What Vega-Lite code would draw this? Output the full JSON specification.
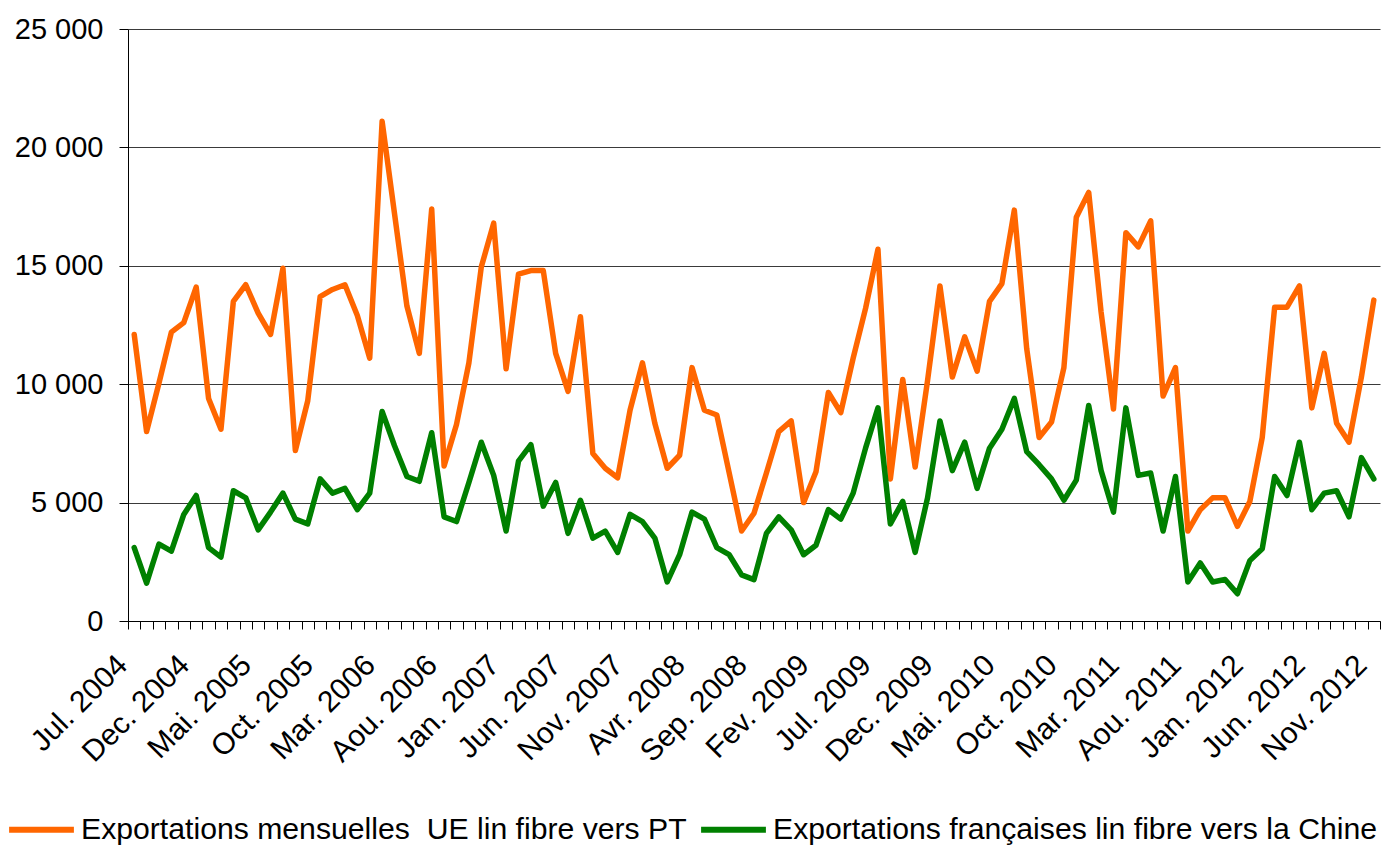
{
  "$schema": "https://vega.github.io/schema/vega-lite/v6.json",
  "width": 1252,
  "height": 592,
  "autosize": {"type": "none"},
  "padding": {"left": 128, "top": 29, "right": 4, "bottom": 224},
  "background": "white",
  "config": {
    "view": {"stroke": null},
    "font": "Liberation Sans"
  },
  "data": {
    "values": [
      {"m": "Jul. 2004", "ue": 12100, "fr": 3100},
      {"m": "Aou. 2004", "ue": 8000, "fr": 1600},
      {"m": "Sep. 2004", "ue": 10050, "fr": 3250},
      {"m": "Oct. 2004", "ue": 12200, "fr": 2950},
      {"m": "Nov. 2004", "ue": 12600, "fr": 4500},
      {"m": "Dec. 2004", "ue": 14100, "fr": 5300},
      {"m": "Jan. 2005", "ue": 9400, "fr": 3100},
      {"m": "Fev. 2005", "ue": 8100, "fr": 2700},
      {"m": "Mar. 2005", "ue": 13500, "fr": 5500},
      {"m": "Avr. 2005", "ue": 14200, "fr": 5200},
      {"m": "Mai. 2005", "ue": 13000, "fr": 3850},
      {"m": "Jun. 2005", "ue": 12100, "fr": 4600},
      {"m": "Jul. 2005", "ue": 14900, "fr": 5400},
      {"m": "Aou. 2005", "ue": 7200, "fr": 4300},
      {"m": "Sep. 2005", "ue": 9300, "fr": 4100},
      {"m": "Oct. 2005", "ue": 13700, "fr": 6000},
      {"m": "Nov. 2005", "ue": 14000, "fr": 5400},
      {"m": "Dec. 2005", "ue": 14200, "fr": 5600},
      {"m": "Jan. 2006", "ue": 12900, "fr": 4700},
      {"m": "Fev. 2006", "ue": 11100, "fr": 5400},
      {"m": "Mar. 2006", "ue": 21100, "fr": 8850},
      {"m": "Avr. 2006", "ue": 17200, "fr": 7400},
      {"m": "Mai. 2006", "ue": 13300, "fr": 6100},
      {"m": "Jun. 2006", "ue": 11300, "fr": 5900},
      {"m": "Jul. 2006", "ue": 17400, "fr": 7950},
      {"m": "Aou. 2006", "ue": 6550, "fr": 4400},
      {"m": "Sep. 2006", "ue": 8300, "fr": 4200},
      {"m": "Oct. 2006", "ue": 10900, "fr": 5850},
      {"m": "Nov. 2006", "ue": 14950, "fr": 7550},
      {"m": "Dec. 2006", "ue": 16800, "fr": 6150},
      {"m": "Jan. 2007", "ue": 10650, "fr": 3800},
      {"m": "Fev. 2007", "ue": 14650, "fr": 6750},
      {"m": "Mar. 2007", "ue": 14800, "fr": 7450},
      {"m": "Avr. 2007", "ue": 14800, "fr": 4850},
      {"m": "Mai. 2007", "ue": 11300, "fr": 5850},
      {"m": "Jun. 2007", "ue": 9700, "fr": 3700},
      {"m": "Jul. 2007", "ue": 12850, "fr": 5100},
      {"m": "Aou. 2007", "ue": 7070, "fr": 3500},
      {"m": "Sep. 2007", "ue": 6450, "fr": 3800},
      {"m": "Oct. 2007", "ue": 6050, "fr": 2900},
      {"m": "Nov. 2007", "ue": 8900, "fr": 4500},
      {"m": "Dec. 2007", "ue": 10900, "fr": 4200},
      {"m": "Jan. 2008", "ue": 8350, "fr": 3500},
      {"m": "Fev. 2008", "ue": 6450, "fr": 1650},
      {"m": "Mar. 2008", "ue": 7000, "fr": 2800},
      {"m": "Avr. 2008", "ue": 10700, "fr": 4600},
      {"m": "Mai. 2008", "ue": 8900, "fr": 4300},
      {"m": "Jun. 2008", "ue": 8700, "fr": 3100},
      {"m": "Jul. 2008", "ue": 6250, "fr": 2800},
      {"m": "Aou. 2008", "ue": 3800, "fr": 1950},
      {"m": "Sep. 2008", "ue": 4550, "fr": 1750},
      {"m": "Oct. 2008", "ue": 6250, "fr": 3700},
      {"m": "Nov. 2008", "ue": 8000, "fr": 4400},
      {"m": "Dec. 2008", "ue": 8450, "fr": 3850},
      {"m": "Jan. 2009", "ue": 5000, "fr": 2800},
      {"m": "Fev. 2009", "ue": 6300, "fr": 3200},
      {"m": "Mar. 2009", "ue": 9650, "fr": 4700},
      {"m": "Avr. 2009", "ue": 8800, "fr": 4300},
      {"m": "Mai. 2009", "ue": 11100, "fr": 5400},
      {"m": "Jun. 2009", "ue": 13200, "fr": 7300},
      {"m": "Jul. 2009", "ue": 15700, "fr": 9000},
      {"m": "Aou. 2009", "ue": 6000, "fr": 4100},
      {"m": "Sep. 2009", "ue": 10200, "fr": 5050},
      {"m": "Oct. 2009", "ue": 6500, "fr": 2900},
      {"m": "Nov. 2009", "ue": 10150, "fr": 5200},
      {"m": "Dec. 2009", "ue": 14150, "fr": 8450},
      {"m": "Jan. 2010", "ue": 10300, "fr": 6350},
      {"m": "Fev. 2010", "ue": 12000, "fr": 7550},
      {"m": "Mar. 2010", "ue": 10550, "fr": 5600},
      {"m": "Avr. 2010", "ue": 13500, "fr": 7300},
      {"m": "Mai. 2010", "ue": 14250, "fr": 8100},
      {"m": "Jun. 2010", "ue": 17350, "fr": 9400},
      {"m": "Jul. 2010", "ue": 11500, "fr": 7150},
      {"m": "Aou. 2010", "ue": 7750, "fr": 6600},
      {"m": "Sep. 2010", "ue": 8400, "fr": 6000},
      {"m": "Oct. 2010", "ue": 10700, "fr": 5100},
      {"m": "Nov. 2010", "ue": 17050, "fr": 5950},
      {"m": "Dec. 2010", "ue": 18100, "fr": 9100},
      {"m": "Jan. 2011", "ue": 13050, "fr": 6350},
      {"m": "Fev. 2011", "ue": 8950, "fr": 4600},
      {"m": "Mar. 2011", "ue": 16400, "fr": 9000},
      {"m": "Avr. 2011", "ue": 15800, "fr": 6150},
      {"m": "Mai. 2011", "ue": 16900, "fr": 6250},
      {"m": "Jun. 2011", "ue": 9500, "fr": 3800},
      {"m": "Jul. 2011", "ue": 10700, "fr": 6100},
      {"m": "Aou. 2011", "ue": 3800, "fr": 1650},
      {"m": "Sep. 2011", "ue": 4700, "fr": 2450},
      {"m": "Oct. 2011", "ue": 5200, "fr": 1650},
      {"m": "Nov. 2011", "ue": 5200, "fr": 1750},
      {"m": "Dec. 2011", "ue": 4000, "fr": 1150},
      {"m": "Jan. 2012", "ue": 5050, "fr": 2550},
      {"m": "Fev. 2012", "ue": 7750, "fr": 3050},
      {"m": "Mar. 2012", "ue": 13250, "fr": 6100},
      {"m": "Avr. 2012", "ue": 13250, "fr": 5300},
      {"m": "Mai. 2012", "ue": 14150, "fr": 7550},
      {"m": "Jun. 2012", "ue": 9000, "fr": 4700},
      {"m": "Jul. 2012", "ue": 11300, "fr": 5400},
      {"m": "Aou. 2012", "ue": 8350, "fr": 5500},
      {"m": "Sep. 2012", "ue": 7550, "fr": 4400},
      {"m": "Oct. 2012", "ue": 10300, "fr": 6900},
      {"m": "Nov. 2012", "ue": 13550, "fr": 6000}
    ]
  },
  "transform": [{"fold": ["ue", "fr"], "as": ["serie", "valeur"]}],
  "mark": {"type": "line", "strokeWidth": 5.5, "strokeJoin": "round", "strokeCap": "round"},
  "encoding": {
    "x": {
      "field": "m",
      "type": "ordinal",
      "sort": null,
      "scale": {"type": "band", "paddingInner": 0, "paddingOuter": 0},
      "axis": {
        "title": null,
        "tickBand": "extent",
        "domainColor": "black",
        "domainWidth": 1,
        "tickColor": "black",
        "tickSize": 8,
        "tickWidth": 1,
        "labelAngle": -45,
        "labelAlign": "right",
        "labelBaseline": "middle",
        "labelPadding": 31,
        "labelOffset": -12,
        "labelFontSize": 30,
        "labelColor": "black",
        "labelFont": "Liberation Sans",
        "labelOverlap": false,
        "labelLimit": 400,
        "labelExpr": "indexof(['Jul. 2004','Dec. 2004','Mai. 2005','Oct. 2005','Mar. 2006','Aou. 2006','Jan. 2007','Jun. 2007','Nov. 2007','Avr. 2008','Sep. 2008','Fev. 2009','Jul. 2009','Dec. 2009','Mai. 2010','Oct. 2010','Mar. 2011','Aou. 2011','Jan. 2012','Jun. 2012','Nov. 2012'], datum.value) >= 0 ? datum.value : ''"
      }
    },
    "y": {
      "field": "valeur",
      "type": "quantitative",
      "scale": {"domain": [0, 25000], "nice": false},
      "axis": {
        "title": null,
        "values": [0, 5000, 10000, 15000, 20000, 25000],
        "grid": true,
        "gridColor": "#3a3a3a",
        "gridWidth": 1,
        "domainColor": "black",
        "tickColor": "black",
        "tickSize": 9,
        "labelPadding": 16,
        "labelFontSize": 29,
        "labelColor": "black",
        "labelFont": "Liberation Sans",
        "labelExpr": "replace(format(datum.value, ','), ',', ' ')"
      }
    },
    "color": {
      "field": "serie",
      "type": "nominal",
      "scale": {"domain": ["ue", "fr"], "range": ["#ff6600", "#008000"]},
      "legend": {
        "orient": "none",
        "direction": "horizontal",
        "legendX": -122,
        "legendY": 765,
        "title": null,
        "symbolType": "stroke",
        "symbolStrokeWidth": 6,
        "symbolSize": 4200,
        "labelFontSize": 30.2,
        "labelFont": "Liberation Sans",
        "labelColor": "black",
        "labelOffset": 4,
        "columnPadding": 2,
        "labelLimit": 1000,
        "labelExpr": "datum.value == 'ue' ? 'Exportations mensuelles \u00a0UE lin fibre vers PT' : 'Exportations françaises lin fibre vers la Chine'"
      }
    }
  }
}
